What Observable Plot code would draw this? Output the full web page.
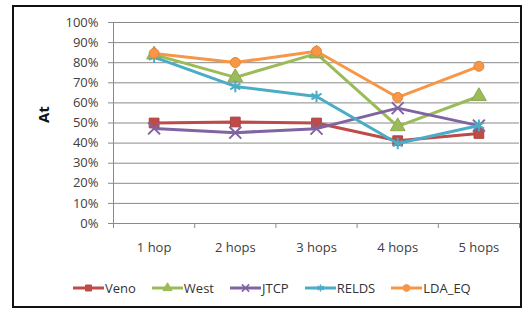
<!DOCTYPE html>
<html><head><meta charset="utf-8">
<script src="https://cdn.jsdelivr.net/npm/d3@7"></script>
<script src="https://cdn.jsdelivr.net/npm/@observablehq/plot@0.6"></script>
<style>
html,body{margin:0;padding:0;background:#fff;}
body{width:526px;height:315px;position:relative;overflow:hidden;font-family:"Open Sans",sans-serif;}
#chart{position:absolute;left:0;top:0;}
#frame{position:absolute;left:12px;top:5px;width:506px;height:299px;border:2px solid #111;pointer-events:none;}
#legend{position:absolute;left:73px;top:279px;display:flex;gap:16px;font-size:13px;color:#333;align-items:center;}
.item{display:flex;align-items:center;}
.item svg{margin-right:1px;}
</style></head>
<body>
<div id="chart"></div>
<div id="legend"></div>
<div id="frame"></div>
<script>
const categories = ["1 hop","2 hops","3 hops","4 hops","5 hops"];
const seriesNames = ["Veno","West","JTCP","RELDS","LDA_EQ"];
const veno  = [0.50, 0.505, 0.50, 0.412, 0.448];
const west  = [0.84, 0.727, 0.845, 0.483, 0.633];
const jtcp  = [0.473, 0.452, 0.472, 0.574, 0.487];
const relds = [0.828, 0.682, 0.632, 0.398, 0.488];
const ldaEq = [0.846, 0.801, 0.857, 0.627, 0.782];
const yTicks = [0,0.1,0.2,0.3,0.4,0.5,0.6,0.7,0.8,0.9,1.0];

const colors = ["#be4b48","#9bbb59","#8064a2","#4bacc6","#f79646"];
const symbols = ["square","triangle","times","asterisk","circle"];
const values = [veno, west, jtcp, relds, ldaEq];

const data = [];
seriesNames.forEach((s, si) => values[si].forEach((v, i) => data.push({series: s, si, x: i + 1, y: v})));
const idx = categories.map((c, i) => i + 1);
const bounds = d3.range(categories.length + 1).map(i => i + 0.5);

const marks = [
  Plot.ruleY(yTicks.slice(1), {stroke: "#8a8a8a", strokeWidth: 1}),
  Plot.axisY({ticks: yTicks, tickFormat: d3.format(".0%"), tickSize: 5, tickPadding: 10, stroke: "#8a8a8a", fill: "#404040", fontSize: 13, label: null}),
  Plot.axisX({ticks: idx, tickSize: 0, tickPadding: 19, tickFormat: d => categories[d - 1], fill: "#404040", fontSize: 13, label: null}),
  Plot.axisX({ticks: bounds, tickSize: 5, tickFormat: () => "", stroke: "#8a8a8a", label: null}),
  Plot.ruleY([0], {stroke: "#8a8a8a", strokeWidth: 1}),
  Plot.ruleX([0.5], {stroke: "#8a8a8a", strokeWidth: 1}),
  Plot.text(["At"], {frameAnchor: "left", dx: -69, rotate: -90, fontWeight: "bold", fontSize: 15, fill: "#111"})
];
seriesNames.forEach((s, si) => {
  const d = data.filter(r => r.series === s);
  marks.push(Plot.line(d, {x: "x", y: "y", stroke: colors[si], strokeWidth: 3, curve: "linear"}));
  const sym = symbols[si];
  const filled = sym === "square" || sym === "triangle" || sym === "circle";
  marks.push(Plot.dot(d, {x: "x", y: "y", symbol: () => sym, r: sym === "circle" ? 5 : 5.5,
    fill: filled ? colors[si] : "none", stroke: filled ? d3.color(colors[si]).darker(0.3).formatHex() : colors[si],
    strokeWidth: filled ? 1 : 2}));
});

const chart = Plot.plot({
  width: 526, height: 270,
  marginLeft: 113, marginRight: 7, marginTop: 22, marginBottom: 47,
  style: {fontFamily: "Open Sans, sans-serif", background: "transparent"},
  x: {type: "linear", domain: [0.5, categories.length + 0.5]},
  y: {domain: [0, 1]},
  symbol: {type: "identity"},
  marks
});
document.getElementById("chart").appendChild(chart);

const legend = document.getElementById("legend");
seriesNames.forEach((s, si) => {
  const item = document.createElement("div");
  item.className = "item";
  const sym = symbols[si];
  const filled = sym === "square" || sym === "triangle" || sym === "circle";
  const path = d3.symbol(d3["symbol" + {square: "Square", triangle: "Triangle", times: "Times", asterisk: "Asterisk", circle: "Circle"}[sym]], 36)();
  item.innerHTML = `<svg width="31" height="12"><line x1="0" y1="6" x2="31" y2="6" stroke="${colors[si]}" stroke-width="3"/>` +
    `<path d="${path}" transform="translate(15.5,6)" fill="${filled ? colors[si] : "none"}" stroke="${colors[si]}" stroke-width="${filled ? 1 : 1.5}"/></svg><span>${s}</span>`;
  legend.appendChild(item);
});
</script>
</body></html>
